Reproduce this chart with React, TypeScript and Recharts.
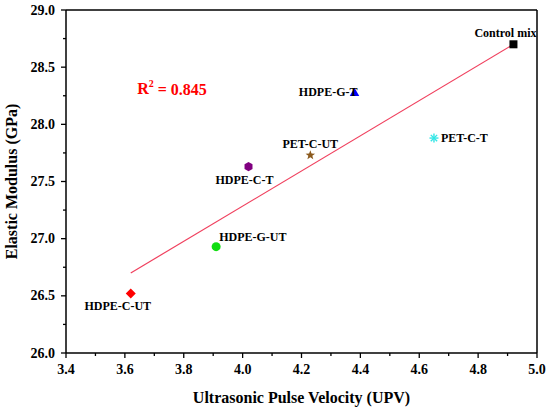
import {
  ReferenceDot,
  ReferenceLine,
  Scatter,
  ScatterChart,
  XAxis,
  YAxis,
} from "recharts";

// mixes and their measured values
const mixNames = [
  "Control mix",
  "HDPE-G-T",
  "PET-C-T",
  "PET-C-UT",
  "HDPE-C-T",
  "HDPE-G-UT",
  "HDPE-C-UT",
];
const upvValues = [4.92, 4.38, 4.65, 4.23, 4.02, 3.91, 3.62];
const modulusValues = [28.7, 28.28, 27.88, 27.73, 27.63, 26.93, 26.52];

// linear fit
const fitUpv = [3.62, 4.92];
const fitModulus = [26.7, 28.7];

const xTicks = [3.4, 3.5, 3.6, 3.7, 3.8, 3.9, 4.0, 4.1, 4.2, 4.3, 4.4, 4.5, 4.6, 4.7, 4.8, 4.9, 5.0];
const yTicks = [26, 26.25, 26.5, 26.75, 27, 27.25, 27.5, 27.75, 28, 28.25, 28.5, 28.75, 29];

const R2_TEXT = "0.845";

type Kind = "square" | "triangle" | "asterisk" | "star" | "hexagon" | "circle" | "diamond";

const markerStyle: Record<
  string,
  { kind: Kind; color: string; anchor: "start" | "middle" | "end"; dx: number; dy: number }
> = {
  "Control mix": { kind: "square", color: "#000000", anchor: "middle", dx: -8, dy: -11 },
  "HDPE-G-T": { kind: "triangle", color: "#0000ff", anchor: "end", dx: 3, dy: 0 },
  "PET-C-T": { kind: "asterisk", color: "#33e6e6", anchor: "start", dx: 7, dy: 0 },
  "PET-C-UT": { kind: "star", color: "#8b5a1e", anchor: "middle", dx: 0, dy: -11 },
  "HDPE-C-T": { kind: "hexagon", color: "#800080", anchor: "middle", dx: -4, dy: 13 },
  "HDPE-G-UT": { kind: "circle", color: "#11dd11", anchor: "start", dx: 3, dy: -10 },
  "HDPE-C-UT": { kind: "diamond", color: "#ff0000", anchor: "middle", dx: -13, dy: 12 },
};

const FONT = "Liberation Serif, Times New Roman, serif";
const txt = { fontFamily: FONT, fontWeight: 700 } as const;

const points = mixNames.map((name, i) => ({ name, upv: upvValues[i], modulus: modulusValues[i] }));
const fitData = fitUpv.map((u, i) => ({ upv: u, modulus: fitModulus[i] }));

function polygon(cx: number, cy: number, n: number, r: number, rot: number) {
  const pts: string[] = [];
  for (let k = 0; k < n; k++) {
    const a = rot + (k * 2 * Math.PI) / n;
    pts.push(`${cx + r * Math.cos(a)},${cy + r * Math.sin(a)}`);
  }
  return pts.join(" ");
}

function starPoints(cx: number, cy: number, ro: number, ri: number) {
  const pts: string[] = [];
  for (let k = 0; k < 10; k++) {
    const a = -Math.PI / 2 + (k * Math.PI) / 5;
    const r = k % 2 === 0 ? ro : ri;
    pts.push(`${cx + r * Math.cos(a)},${cy + r * Math.sin(a)}`);
  }
  return pts.join(" ");
}

function Marker({ kind, color, cx, cy }: { kind: Kind; color: string; cx: number; cy: number }) {
  switch (kind) {
    case "square":
      return <rect x={cx - 4} y={cy - 4} width={8} height={8} fill={color} />;
    case "triangle":
      return <polygon points={polygon(cx, cy + 1, 3, 5.5, -Math.PI / 2)} fill={color} />;
    case "asterisk":
      return (
        <g stroke={color} strokeWidth={1.4}>
          {[0, 45, 90, 135].map((deg) => {
            const a = (deg * Math.PI) / 180;
            return (
              <line
                key={deg}
                x1={cx - 4.5 * Math.cos(a)}
                y1={cy - 4.5 * Math.sin(a)}
                x2={cx + 4.5 * Math.cos(a)}
                y2={cy + 4.5 * Math.sin(a)}
              />
            );
          })}
        </g>
      );
    case "star":
      return <polygon points={starPoints(cx, cy, 5, 2.1)} fill={color} />;
    case "hexagon":
      return <polygon points={polygon(cx, cy, 6, 4.6, -Math.PI / 2)} fill={color} />;
    case "circle":
      return <circle cx={cx} cy={cy} r={4.5} fill={color} />;
    case "diamond":
      return <polygon points={polygon(cx, cy, 4, 5, -Math.PI / 2)} fill={color} />;
  }
  return null;
}

function PointShape(props: any) {
  const { cx, cy, payload } = props;
  const st = markerStyle[payload.name];
  return (
    <g>
      <Marker kind={st.kind} color={st.color} cx={cx} cy={cy} />
      <text
        x={cx + st.dx}
        y={cy + st.dy}
        textAnchor={st.anchor}
        dominantBaseline="central"
        style={{ ...txt, fontSize: 12 }}
        fill="#000"
      >
        {payload.name}
      </text>
    </g>
  );
}

function XTick(props: any) {
  const { x, y, payload } = props;
  const v = payload.value as number;
  const major = Math.round(v * 10) % 2 === 0;
  return (
    <g>
      <line x1={x} x2={x} y1={y} y2={y + (major ? 5 : 3)} stroke="#000" strokeWidth={1.3} />
      {major && (
        <text
          x={x}
          y={y + 16}
          textAnchor="middle"
          dominantBaseline="central"
          style={{ ...txt, fontSize: 14 }}
          fill="#000"
        >
          {v.toFixed(1)}
        </text>
      )}
    </g>
  );
}

function YTick(props: any) {
  const { x, y, payload } = props;
  const v = payload.value as number;
  const major = Math.round(v * 4) % 2 === 0;
  return (
    <g>
      <line x1={x - (major ? 5 : 3)} x2={x} y1={y} y2={y} stroke="#000" strokeWidth={1.3} />
      {major && (
        <text
          x={x - 11}
          y={y}
          textAnchor="end"
          dominantBaseline="central"
          style={{ ...txt, fontSize: 14 }}
          fill="#000"
        >
          {v.toFixed(1)}
        </text>
      )}
    </g>
  );
}

export default function App() {
  return (
    <div style={{ position: "absolute", left: 0, top: 0, width: 550, height: 409, background: "#fff" }}>
      <ScatterChart width={550} height={409} margin={{ top: 10, right: 13, bottom: 26, left: 16 }}>
        <XAxis
          type="number"
          dataKey="upv"
          domain={[3.4, 5.0]}
          ticks={xTicks}
          interval={0}
          allowDataOverflow
          height={30}
          tickSize={0}
          tickMargin={0}
          tick={<XTick />}
          axisLine={{ stroke: "#000", strokeWidth: 1.5 }}
          label={{
            content: ({ viewBox }: any) => (
              <text
                x={viewBox.x + viewBox.width / 2}
                y={397}
                textAnchor="middle"
                dominantBaseline="central"
                style={{ ...txt, fontSize: 16 }}
                fill="#000"
              >
                Ultrasonic Pulse Velocity (UPV)
              </text>
            ),
          }}
        />
        <YAxis
          type="number"
          dataKey="modulus"
          domain={[26, 29]}
          ticks={yTicks}
          interval={0}
          allowDataOverflow
          width={50}
          tickSize={0}
          tickMargin={0}
          tick={<YTick />}
          axisLine={{ stroke: "#000", strokeWidth: 1.5 }}
          label={{
            content: ({ viewBox }: any) => {
              const cx = 11;
              const cy = viewBox.y + viewBox.height / 2;
              return (
                <text
                  x={cx}
                  y={cy}
                  transform={`rotate(-90 ${cx} ${cy})`}
                  textAnchor="middle"
                  dominantBaseline="central"
                  style={{ ...txt, fontSize: 16 }}
                  fill="#000"
                >
                  Elastic Modulus (GPa)
                </text>
              );
            },
          }}
        />
        <ReferenceLine y={29} stroke="#000" strokeWidth={1.5} />
        <ReferenceLine x={5.0} stroke="#000" strokeWidth={1.5} />
        <Scatter
          data={fitData}
          line={{ stroke: "#f0405e", strokeWidth: 1.2 }}
          shape={() => <g />}
          isAnimationActive={false}
        />
        {points.map((p) => (
          <Scatter key={p.name} data={[p]} shape={<PointShape />} isAnimationActive={false} />
        ))}
        <ReferenceDot
          x={3.76}
          y={28.31}
          r={0}
          fill="none"
          stroke="none"
          label={{
            content: ({ viewBox }: any) => (
              <text
                x={viewBox.x}
                y={viewBox.y}
                textAnchor="middle"
                dominantBaseline="central"
                style={{ ...txt, fontSize: 16 }}
                fill="#ff0000"
              >
                R
                <tspan style={{ fontSize: 10 }} dy={-6}>
                  2
                </tspan>
                <tspan dy={6}>{` = ${R2_TEXT}`}</tspan>
              </text>
            ),
          }}
        />
      </ScatterChart>
    </div>
  );
}
